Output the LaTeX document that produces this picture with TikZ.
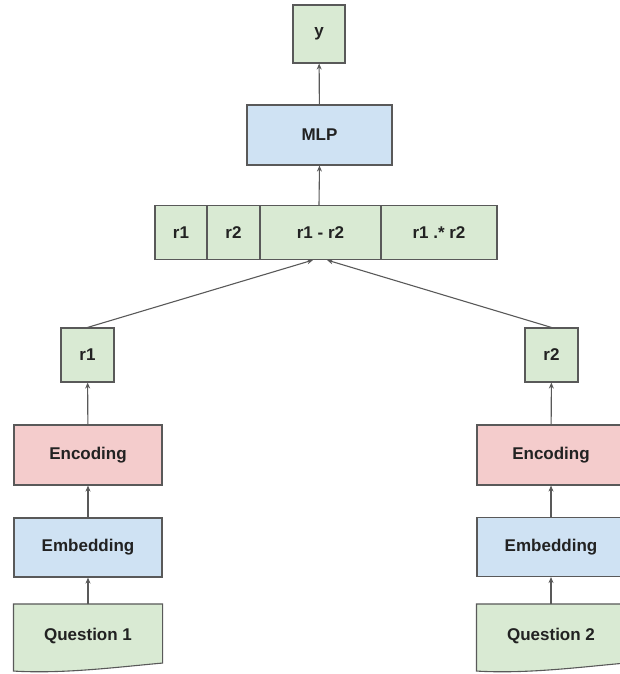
\documentclass[tikz,border=0pt]{standalone}
\usepackage{fontspec}
\setmainfont{Liberation Sans}
\usetikzlibrary{backgrounds,arrows.meta}
\definecolor{gfill}{HTML}{D9EAD3}
\definecolor{bfill}{HTML}{CFE2F3}
\definecolor{rfill}{HTML}{F4CCCC}
\definecolor{edge}{HTML}{595959}
\definecolor{txt}{HTML}{222222}
\begin{document}
\begin{tikzpicture}[x=1pt,y=-1pt,
  box/.style={draw=edge,line width=1.1pt,inner sep=0pt,text=txt,
    font=\fontsize{17}{17}\selectfont\bfseries},
  gbox/.style={box,fill=gfill},
  bbox/.style={box,fill=bfill},
  rbox/.style={box,fill=rfill},
  docbox/.style={box,draw=none},
  arr/.style={draw=edge,line width=1.1pt,-{Stealth[length=6pt,width=5pt]}}]
\useasboundingbox (0,0) rectangle (620,674);
% top
\node[gbox,minimum width=52pt,minimum height=58pt] (y) at (319,34) {y};
\node[bbox,minimum width=145pt,minimum height=60pt] (mlp) at (319.5,135) {MLP};
% concat row
\node[gbox,minimum width=52pt,minimum height=54pt] (c1) at (181,232.5) {r1};
\node[gbox,minimum width=53pt,minimum height=54pt] (c2) at (233.5,232.5) {r2};
\node[gbox,minimum width=121pt,minimum height=54pt] (c3) at (320.5,232.5) {r1 - r2};
\node[gbox,minimum width=116pt,minimum height=54pt] (c4) at (439,232.5) {r1 .* r2};
% left branch
\node[gbox,minimum width=53pt,minimum height=54pt] (r1) at (87.5,355) {r1};
\node[rbox,minimum width=148pt,minimum height=60pt] (enc1) at (88,455) {Encoding};
\node[bbox,minimum width=148pt,minimum height=59pt] (emb1) at (88,547.5) {Embedding};
\node[docbox,minimum width=148pt,minimum height=63pt] (q1) at (88,636) {Question 1};
% right branch
\node[gbox,minimum width=53pt,minimum height=54pt] (r2) at (551.5,355) {r2};
\node[rbox,minimum width=148pt,minimum height=60pt] (enc2) at (551,455) {Encoding};
\node[bbox,minimum width=148pt,minimum height=59pt] (emb2) at (551,547) {Embedding};
\node[docbox,minimum width=148pt,minimum height=63pt] (q2) at (551,636) {Question 2};
% document shapes
\begin{scope}[on background layer]
\foreach \q in {q1,q2}{
  \draw[draw=edge,fill=gfill,line width=1.1pt]
    (\q.north west) -- (\q.north east) -- ([yshift=5pt]\q.south east)
    .. controls ([xshift=-45pt,yshift=1pt]\q.south east) and ([xshift=50pt,yshift=-6pt]\q.south west) .. ([yshift=-3pt]\q.south west)
    -- cycle;
}
\end{scope}
% arrows
\draw[arr] (q1.north) -- (emb1);
\draw[arr] (emb1) -- (enc1);
\draw[arr] (enc1) -- (r1);
\draw[arr] (q2.north) -- (emb2);
\draw[arr] (emb2) -- (enc2);
\draw[arr] (enc2) -- (r2);
\draw[arr] (r1.north) -- ([xshift=-7.5pt]c3.south);
\draw[arr] (r2.north) -- ([xshift=6.5pt]c3.south);
\draw[arr] ([xshift=-1.5pt]c3.north) -- (mlp.south);
\draw[arr] (mlp) -- (y);
\end{tikzpicture}
\end{document}
